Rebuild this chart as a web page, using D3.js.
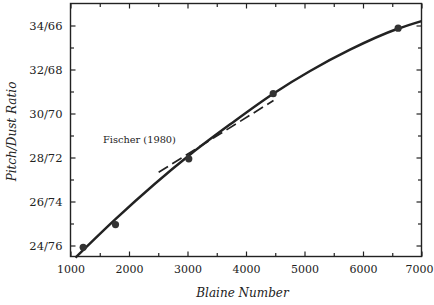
<!DOCTYPE html>
<html>
<head>
<meta charset="utf-8">
<style>
body { margin: 0; background: #fff; }
svg text { font-family: "DejaVu Serif", serif; fill: #222; }
.axis path { display: none; }
.axis line { stroke: #222; stroke-width: 1.2; }
.curve { fill: none; stroke: #222; stroke-width: 2.5; }
.fischer { fill: none; stroke: #222; stroke-width: 1.7; stroke-dasharray: 11,5; }
.dot { fill: #333; }
</style>
</head>
<body>
<svg width="434" height="305"></svg>
<script src="https://d3js.org/d3.v7.min.js"></script>
<script>

// measured points
var blaine = [1217, 1769, 3022, 4465, 6601];
var ratio = [23.92, 24.95, 27.94, 30.9, 33.88];

// fitted curve
var curveBlaine = [1085, 1769, 3051, 3735, 4465, 5096, 5778, 6592, 7000];
var curveRatio = [23.45, 25.2, 28.15, 29.52, 30.9, 31.93, 32.9, 33.85, 34.2];

// Fischer (1980) dashed line
var fischerBlaine = [2507, 4470];
var fischerRatio = [27.33, 30.59];

var xTicks = [1000, 2000, 3000, 4000, 5000, 6000, 7000];
var xMinor = [1500, 2500, 3500, 4500, 5500, 6500];
var yTicks = [24, 26, 28, 30, 32, 34];
var yTickLabels = ["24/76", "26/74", "28/72", "30/70", "32/68", "34/66"];
var yMinor = [25, 27, 29, 31, 33];

var svg = d3.select("svg"),
    plotLeft = 70.5, plotRight = 421.5, plotTop = 3.5, plotBottom = 256.5;

var x = d3.scaleLinear().domain([1000, 7000]).range([plotLeft, plotRight]),
    y = d3.scaleLinear().domain([23.5, 35]).range([plotBottom, plotTop]);

// ticks, all pointing inward
function addAxis(axis, tx, ty) {
  return svg.append("g").attr("class", "axis")
      .attr("transform", "translate(" + tx + "," + ty + ")")
      .call(axis);
}
var xLabels = addAxis(d3.axisBottom(x).tickValues(xTicks).tickSize(-5).tickPadding(9).tickFormat(d3.format("d")), 0, plotBottom)
    .selectAll("text").style("font-size", "11px");
// keep the 7000 inside the picture
xLabels.filter(function(d) { return d === 7000; }).attr("dx", -2.5);
addAxis(d3.axisBottom(x).tickValues(xMinor).tickSize(-3.5).tickFormat(""), 0, plotBottom);
addAxis(d3.axisTop(x).tickValues(xTicks).tickSize(-5).tickFormat(""), 0, plotTop);
addAxis(d3.axisTop(x).tickValues(xMinor).tickSize(-3.5).tickFormat(""), 0, plotTop);
addAxis(d3.axisLeft(y).tickValues(yTicks).tickSize(-5).tickPadding(8)
    .tickFormat(function(d, i) { return yTickLabels[i]; }), plotLeft, 0)
    .selectAll("text").style("font-size", "11.5px");
addAxis(d3.axisLeft(y).tickValues(yMinor).tickSize(-3.5).tickFormat(""), plotLeft, 0);
addAxis(d3.axisRight(y).tickValues(yTicks).tickSize(-5).tickFormat(""), plotRight, 0);
addAxis(d3.axisRight(y).tickValues(yMinor).tickSize(-3.5).tickFormat(""), plotRight, 0);

// frame
svg.append("rect")
    .attr("x", plotLeft).attr("y", plotTop)
    .attr("width", plotRight - plotLeft).attr("height", plotBottom - plotTop)
    .attr("fill", "none").attr("stroke", "#222").attr("stroke-width", 1.4);

var line = d3.line()
    .curve(d3.curveMonotoneX)
    .x(function(d) { return x(d[0]); })
    .y(function(d) { return y(d[1]); });

svg.append("path")
    .attr("class", "fischer")
    .attr("d", d3.line()(fischerBlaine.map(function(b, i) { return [x(b), y(fischerRatio[i])]; })));

svg.append("path")
    .attr("class", "curve")
    .attr("d", line(curveBlaine.map(function(b, i) { return [b, curveRatio[i]]; })));

svg.selectAll(".dot")
    .data(blaine)
  .enter().append("circle")
    .attr("class", "dot")
    .attr("cx", function(d) { return x(d); })
    .attr("cy", function(d, i) { return y(ratio[i]); })
    .attr("r", 3.6);

svg.append("text")
    .attr("x", 103).attr("y", 142.5)
    .style("font-size", "9.8px")
    .text("Fischer (1980)");

svg.append("text")
    .attr("x", 242.5).attr("y", 296.5)
    .attr("text-anchor", "middle")
    .style("font-size", "12px").style("font-style", "italic")
    .text("Blaine Number");

svg.append("text")
    .attr("transform", "translate(16,131.5) rotate(-90)")
    .attr("text-anchor", "middle")
    .style("font-size", "12px").style("font-style", "italic")
    .text("Pitch/Dust Ratio");

</script>
</body>
</html>
